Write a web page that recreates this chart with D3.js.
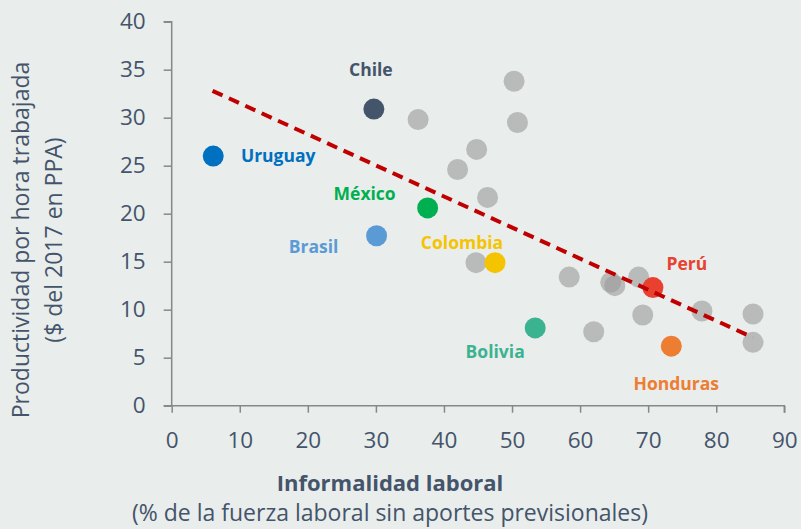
<!DOCTYPE html>
<html>
<head>
<meta charset="utf-8">
<script src="https://cdn.jsdelivr.net/npm/d3@7"></script>
<style>
  html, body { margin: 0; padding: 0; background: #e9edec; }
  svg { display: block; }
  text { font-family: "Open Sans", sans-serif; fill: #44546a; }
</style>
</head>
<body>
<svg id="chart" width="801" height="529"></svg>
<script>
// Highlighted countries
var countries = ["Uruguay", "Chile", "México", "Brasil", "Colombia", "Bolivia", "Perú", "Honduras"];
var informality = [6.1, 29.7, 37.6, 30.1, 47.5, 53.4, 70.7, 73.4];
var productivity = [26.0, 30.9, 20.6, 17.7, 14.9, 8.1, 12.3, 6.2];
var countryColors = ["#0070c0", "#44546a", "#00b050", "#5b9bd5", "#f5c400", "#3bb391", "#e8412f", "#ed7d31"];

// Other countries (grey)
var otherInformality = [36.2, 50.3, 50.8, 44.8, 42.0, 46.4, 44.7, 58.4, 64.5, 65.1, 68.6, 69.2, 62.0, 77.9, 85.4, 85.4];
var otherProductivity = [29.8, 33.8, 29.5, 26.7, 24.6, 21.7, 14.9, 13.4, 12.85, 12.5, 13.4, 9.45, 7.7, 9.86, 9.55, 6.6];

// Trend line end points
var trendX = [6.0, 85.4];
var trendY = [32.8, 7.1];

// Axis ticks
var xTicks = [0, 10, 20, 30, 40, 50, 60, 70, 80, 90];
var yTicks = [0, 5, 10, 15, 20, 25, 30, 35, 40];

// Label placement (pixels from the dot centre)
var labelOffset = {
  "Uruguay": [65, 0], "Chile": [-3, -39], "México": [-63, -14], "Brasil": [-63, 11],
  "Colombia": [-33, -20], "Bolivia": [-40, 24], "Perú": [34, -24], "Honduras": [5, 38]
};

var svg = d3.select("#chart");
var x = d3.scaleLinear().domain([0, 90]).range([171.7, 784.3]);
var y = d3.scaleLinear().domain([0, 40]).range([405.7, 21.7]);

// Axes
var styleAxis = function (g) {
  g.select(".domain").attr("stroke", "#888").attr("stroke-width", 1.5);
  g.selectAll(".tick line").attr("stroke", "#888").attr("stroke-width", 1.5);
  g.selectAll(".tick text").style("font-size", "22.5px").attr("fill", "#44546a");
};

svg.append("g")
  .attr("transform", "translate(0," + y(0) + ")")
  .call(d3.axisBottom(x).tickValues(xTicks).tickSize(7).tickSizeOuter(7).tickPadding(19))
  .call(styleAxis)
  .call(function (g) { g.select(".domain").attr("d", "M" + (x(0) - 8) + ",0H" + x(90) + "V7"); });

svg.append("g")
  .attr("transform", "translate(" + x(0) + ",0)")
  .call(d3.axisLeft(y).tickValues(yTicks).tickSize(8).tickSizeOuter(8).tickPadding(18))
  .call(styleAxis)
  .call(function (g) { g.select(".domain").attr("d", "M-8," + y(40) + "H0V" + y(0)); });

// Grey points
var others = d3.range(otherInformality.length).map(function (i) {
  return { x: otherInformality[i], y: otherProductivity[i] };
});
svg.append("g").selectAll("circle").data(others).enter().append("circle")
  .attr("cx", function (d) { return x(d.x); })
  .attr("cy", function (d) { return y(d.y); })
  .attr("r", 10.5)
  .attr("fill", "#999")
  .attr("fill-opacity", 0.6);

// Highlighted points
var main = countries.map(function (c, i) {
  return { name: c, x: informality[i], y: productivity[i], color: countryColors[i] };
});
svg.append("g").selectAll("circle").data(main).enter().append("circle")
  .attr("cx", function (d) { return x(d.x); })
  .attr("cy", function (d) { return y(d.y); })
  .attr("r", 10.5)
  .attr("fill", function (d) { return d.color; });

// Trend line
svg.append("path")
  .datum(trendX.map(function (v, i) { return [v, trendY[i]]; }))
  .attr("d", d3.line().x(function (d) { return x(d[0]); }).y(function (d) { return y(d[1]); }))
  .attr("fill", "none")
  .attr("stroke", "#c00000")
  .attr("stroke-width", 4)
  .attr("stroke-dasharray", "11,7");

// Country labels
svg.append("g").selectAll("text").data(main).enter().append("text")
  .attr("x", function (d) { return x(d.x) + labelOffset[d.name][0]; })
  .attr("y", function (d) { return y(d.y) + labelOffset[d.name][1]; })
  .attr("dy", "0.35em")
  .attr("text-anchor", "middle")
  .style("font-size", "17.5px")
  .style("font-weight", "bold")
  .style("fill", function (d) { return d.color; })
  .text(function (d) { return d.name; });

// Axis titles
svg.append("text")
  .attr("x", 390).attr("y", 491)
  .attr("text-anchor", "middle")
  .style("font-size", "22px").style("font-weight", "bold")
  .text("Informalidad laboral");

svg.append("text")
  .attr("x", 390).attr("y", 521)
  .attr("text-anchor", "middle")
  .style("font-size", "23px")
  .text("(% de la fuerza laboral sin aportes previsionales)");

var yTitle = svg.append("text")
  .attr("transform", "translate(0,240) rotate(-90)")
  .attr("text-anchor", "middle")
  .style("font-size", "23px");
yTitle.append("tspan").attr("x", 0).attr("y", 29).text("Productividad por hora trabajada");
yTitle.append("tspan").attr("x", 0).attr("y", 62).text("($ del 2017 en PPA)");
</script>
</body>
</html>
